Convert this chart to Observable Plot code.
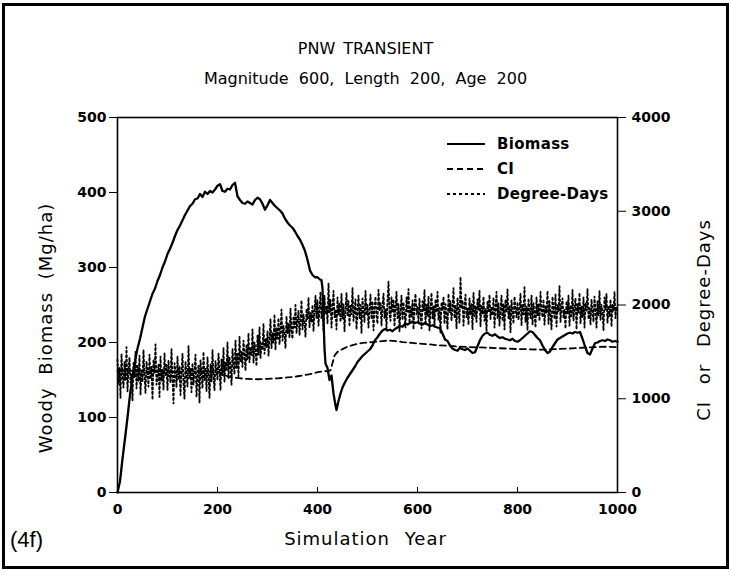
<!DOCTYPE html>
<html>
<head>
<meta charset="utf-8">
<script src="https://cdn.jsdelivr.net/npm/d3@7"></script>
<script src="https://cdn.jsdelivr.net/npm/@observablehq/plot@0.6"></script>
<style>
  html, body { margin: 0; padding: 0; background: #fff; }
  #wrap { position: relative; width: 731px; height: 576px; overflow: hidden; font-family: "DejaVu Sans", sans-serif; color: #000; }
  #border { position: absolute; left: 2px; top: 3px; width: 727px; height: 566px; box-sizing: border-box; border: 3px solid #000; pointer-events: none; }
  .t { position: absolute; white-space: nowrap; }
  .ax { font-size: 18px; letter-spacing: 1px; }
  #chart { position: absolute; left: 0; top: 0; }
  #legend { position: absolute; left: 446px; top: 131px; font-size: 15px; font-weight: bold; letter-spacing: 0.3px; }
  #legend div { height: 25px; display: flex; align-items: center; }
  #legend svg { margin-right: 11px; }
</style>
</head>
<body>
<div id="wrap">
  <div id="chart"></div>
  <div class="t" id="title" style="left:0;width:731px;text-align:center;top:39px;font-size:16px;word-spacing:3px;">PNW TRANSIENT</div>
  <div class="t" id="subtitle" style="left:0;width:731px;text-align:center;top:69px;font-size:16px;word-spacing:5px;">Magnitude 600, Length 200, Age 200</div>
  <div class="t ax" style="left:45px;top:328px;transform:translate(-50%,-50%) rotate(-90deg);word-spacing:6px;">Woody Biomass (Mg/ha)</div>
  <div class="t ax" style="left:703px;top:320px;transform:translate(-50%,-50%) rotate(-90deg);word-spacing:10px;">CI or Degree-Days</div>
  <div class="t ax" style="left:0;width:731px;text-align:center;top:528px;word-spacing:8px;">Simulation Year</div>
  <div class="t" style="left:10px;top:527px;font-family:'Liberation Sans',sans-serif;font-size:22px;">(4f)</div>
  <div id="legend"></div>
  <div id="border"></div>
</div>
<script>
// ---- Data ----
const xTicks = [0, 200, 400, 600, 800, 1000];
const yLeftTicks = [0, 100, 200, 300, 400, 500];
const yRightTicks = [0, 1000, 2000, 3000, 4000];
const rightToLeft = 8; // 4000 on the right axis corresponds to 500 on the left axis

const seriesNames = ["Biomass", "CI", "Degree-Days"];

// Woody biomass (Mg/ha), left axis
const bioYears = [0,5,10,15,20,25,30,35,40,45,50,55,60,65,70,75,80,85,90,95,
  100,105,110,115,120,125,130,135,140,145,150,155,160,165,170,175,180,185,190,195,
  200,205,210,215,220,225,230,235,240,245,250,255,260,265,270,275,280,285,290,295,
  300,305,310,315,320,325,330,335,340,345,350,355,360,365,370,375,380,385,390,395,
  400,405,408,410,412,414,416,420,424,428,432,436,438,442,446,450,455,460,465,470,475,480,485,490,495,
  500,505,510,515,520,525,530,535,540,545,550,555,560,565,570,575,580,585,590,595,
  600,605,610,615,620,625,630,635,640,645,650,655,660,665,670,675,680,685,690,695,
  700,705,710,715,720,725,730,735,740,745,750,755,760,765,770,775,780,785,790,795,
  800,805,810,815,820,825,830,835,840,845,850,855,860,865,870,875,880,885,890,895,
  900,905,910,915,920,925,930,935,940,945,950,955,960,965,970,975,980,985,990,995,1000];
const bioValues = [0,15,45,72,100,130,155,175,192,205,220,235,245,255,265,272,282,290,300,308,
  318,325,333,342,350,356,363,370,376,382,385,391,392,398,394,401,398,402,400,404,
  409,411,402,401,405,404,410,413,395,390,386,385,388,386,384,390,393,391,385,377,
  383,390,386,382,379,376,372,365,360,356,353,348,342,337,330,322,310,296,290,287,
  287,284,283,272,232,192,172,166,150,156,132,116,110,122,132,140,147,153,158,163,168,174,178,182,185,
  188,191,196,203,207,212,216,218,216,217,215,218,220,222,221,225,224,226,228,226,
  227,225,224,226,224,222,223,221,220,219,212,204,202,196,192,190,189,193,191,190,
  192,189,186,187,195,203,209,212,213,210,209,211,208,206,207,205,204,203,205,202,
  201,203,206,209,212,215,214,210,206,203,196,190,186,188,194,199,204,206,208,210,
  212,213,212,214,213,214,205,195,186,184,192,199,200,202,203,202,204,203,201,202,201];

// CI, right axis
const ciYears = [0,20,40,60,80,100,120,140,160,180,200,210,220,230,240,250,260,270,280,290,
  300,310,320,330,340,350,360,370,380,390,400,410,420,426,430,434,440,450,460,470,480,490,
  500,510,520,530,540,550,560,570,580,590,600,620,640,660,680,700,720,740,760,780,
  800,820,840,860,880,900,920,940,960,980,1000];
const ciValues = [1300,1295,1305,1290,1300,1295,1285,1300,1295,1290,1290,1260,1240,1228,1222,1215,1212,1210,1208,1210,
  1212,1215,1218,1222,1228,1232,1240,1248,1258,1268,1283,1290,1296,1302,1380,1460,1500,1530,1555,1572,1585,1595,
  1600,1605,1610,1615,1620,1618,1612,1605,1600,1595,1590,1582,1570,1565,1558,1552,1548,1545,1540,1535,
  1530,1528,1525,1525,1530,1535,1540,1548,1552,1555,1550];

// Degree-days, right axis, every 2 years
const ddYears = d3.range(0, 1001, 2);
const ddValues = [
  1420,1150,1330,1010,1480,1250,1120,1390,1200,1550,1080,1310,1440,1170,1260,980,1380,1230,1500,1110,1350,1190,1460,1040,1300,
  1180,1520,1250,1060,1400,1290,1130,1470,1210,1340,990,1420,1270,1580,1150,1230,1370,1020,1450,1190,1310,1100,1490,1240,1360,
  1090,1410,1260,1170,1530,1220,950,1380,1300,1120,1450,1200,1350,1040,1290,1480,1160,1000,1400,1250,1130,1560,1210,1320,1070,
  1380,1150,1290,1470,1020,1230,1360,960,1410,1270,1110,1500,1200,1330,1080,1440,1250,1010,1370,1180,1520,1230,1090,1400,1300,
  1200,1480,1310,1090,1420,1250,1540,1180,1390,1300,1600,1220,1450,1340,1150,1530,1380,1260,1620,1330,1480,1240,1660,1390,1500,
  1340,1620,1480,1300,1580,1420,1700,1390,1550,1460,1740,1380,1600,1520,1350,1680,1470,1760,1430,1590,1520,1800,1480,1640,1550,
  1720,1460,1650,1850,1540,1700,1600,1900,1520,1760,1640,1860,1580,1730,1950,1620,1780,1680,1540,1880,1700,1800,1650,1960,1720,
  1640,1880,1760,2000,1700,1850,1940,1680,1820,2050,1740,1900,1800,1660,1960,1850,2080,1760,1920,1820,2000,1720,1940,2100,1860,
  2050,1780,1960,2140,1850,2000,1720,2100,1900,1990,1800,2230,1920,2060,1760,1980,2150,1870,1950,1740,2080,1900,2020,1820,2120,
  1850,2010,1720,1960,2130,1880,2040,1770,1990,1900,2180,1830,1950,2060,1740,1920,2100,1860,2000,1700,2070,1940,1820,2150,1890,
  2000,1760,1950,2110,1850,2040,1730,1970,2090,1880,1800,2160,1940,2030,1780,1990,2120,1860,1960,1750,2050,2250,1900,1830,2080,
  1920,2060,1770,1990,2140,1860,2010,1720,1950,2100,1840,2030,1890,1760,2080,1930,2170,1810,1980,1870,2050,1740,2000,2120,1900,
  1980,1820,2070,1900,1750,2040,1940,2160,1790,2000,1880,2090,1730,1960,2130,1850,1990,1780,2060,1920,2140,1840,1970,1700,2030,
  1940,2090,1800,2010,1890,1740,2120,1920,2040,1830,1970,2180,1860,2000,1750,2080,1930,1810,2300,1960,2050,1780,1990,2110,1870,
  1960,1790,2070,1900,2010,1740,2130,1880,1990,1820,2060,1940,2150,1770,2000,1900,2090,1830,1960,1720,2040,1930,2110,1850,1980,
  1890,2080,1760,1970,2140,1860,2020,1780,1950,2100,1830,2010,1740,2060,1920,2170,1850,1990,1710,2050,1930,1800,2090,1960,1870,
  2030,1840,1960,2120,1780,2000,1900,2190,1820,1980,1730,2070,1940,1860,2100,1790,2020,1920,1760,2080,1890,2010,1830,2140,1950,
  1870,2060,1790,1990,1920,2150,1800,2040,1880,1740,2090,1960,1850,2110,1770,2000,1930,2200,1820,1980,2070,1860,1950,1750,2040,
  1910,2100,1780,2000,1880,2160,1830,1960,2070,1740,2010,1920,2130,1800,1990,1870,2080,1760,2020,1940,2170,1850,1970,1790,2060,
  1930,1820,2090,1960,1760,2040,1890,2150,1840,2000,1920,1730,2080,1950,2120,1810,1990,1880,2060,1770,2010,1940,2140,1860,1980,
  1950];

const bio = bioYears.map((x, i) => ({year: x, value: bioValues[i]}));
const ci = ciYears.map((x, i) => ({year: x, value: ciValues[i] / rightToLeft}));
const dd = ddYears.map((x, i) => ({year: x, value: ddValues[i] / rightToLeft}));

const chart = Plot.plot({
  width: 731,
  height: 576,
  marginLeft: 117,
  marginRight: 114,
  marginTop: 117,
  marginBottom: 84,
  x: {domain: [0, 1000]},
  y: {domain: [0, 500]},
  style: {fontFamily: "DejaVu Sans, sans-serif", fontSize: "14px", fontWeight: "bold", background: "transparent", color: "#000"},
  marks: [
    Plot.line(dd, {x: "year", y: "value", stroke: "#000", strokeWidth: 1.8, strokeDasharray: "2,2.5"}),
    Plot.line(ci, {x: "year", y: "value", stroke: "#000", strokeWidth: 1.8, strokeDasharray: "6,4"}),
    Plot.line(bio, {x: "year", y: "value", stroke: "#000", strokeWidth: 2.3}),
    Plot.frame({stroke: "#000", strokeWidth: 1.6}),
    Plot.axisX({ticks: xTicks, tickSize: -5, tickPadding: 17, label: null, tickFormat: d => String(d)}),
    Plot.axisY({ticks: yLeftTicks, tickSize: 8, tickPadding: 3, label: null}),
    Plot.axisY({anchor: "right", ticks: yRightTicks.map(v => v / rightToLeft), tickFormat: d => String(Math.round(d * rightToLeft)), tickSize: 8, tickPadding: 6, label: null})
  ]
});
document.getElementById("chart").appendChild(chart);

// Legend
const dashes = [null, "6,4", "3,3"];
const legend = d3.select("#legend");
seriesNames.forEach((name, i) => {
  const row = legend.append("div");
  const svg = row.append("svg").attr("width", 40).attr("height", 10);
  svg.append("line").attr("x1", 1).attr("x2", 39).attr("y1", 5).attr("y2", 5)
    .attr("stroke", "#000").attr("stroke-width", 1.8)
    .attr("stroke-dasharray", dashes[i]);
  row.append("span").text(name);
});
</script>
</body>
</html>
